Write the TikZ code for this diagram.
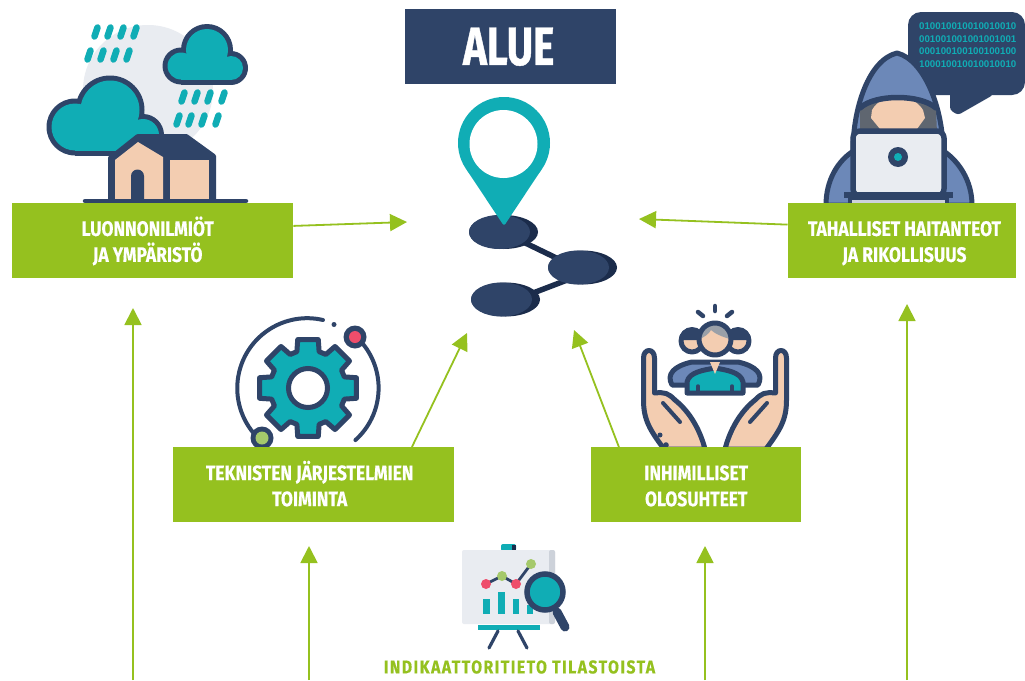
\documentclass[tikz,border=0pt]{standalone}
\usepackage{fontspec}
\setmainfont[FakeStretch=0.83,BoldFeatures={FakeBold=0.4}]{Fira Sans}
\newfontfamily\aluefont[FakeStretch=0.75,BoldFeatures={FakeBold=0.8}]{Fira Sans}
\newfontfamily\indifont[FakeStretch=0.85,LetterSpace=8,BoldFeatures={FakeBold=0.4}]{Fira Sans}
\newfontfamily\binfont{Liberation Sans}
\usetikzlibrary{arrows.meta}
\definecolor{grn}{HTML}{95C11F}
\definecolor{navy}{HTML}{2F4468}
\definecolor{dnavy}{HTML}{1B2C4B}
\definecolor{teal1}{HTML}{10ADB5}
\definecolor{peach}{HTML}{F3CDB1}
\definecolor{hood}{HTML}{6C88B8}
\definecolor{pale}{HTML}{E9ECF1}
\definecolor{pale2}{HTML}{CDD2DA}
\definecolor{hgrey}{HTML}{5F6670}
\definecolor{hair}{HTML}{9AA0A8}
\definecolor{red1}{HTML}{EE4D6B}
\definecolor{lgrn}{HTML}{A5C96B}
\newcommand{\st}{\rule[-3pt]{0pt}{23pt}}
\tikzset{
  gbox/.style={fill=grn,inner sep=0pt,text=white,align=center,anchor=north west,
     font=\fontsize{21}{26}\selectfont\bfseries},
  arr/.style={draw=grn,line width=1.8pt,-{Triangle[length=17pt,width=17pt,fill=grn]}},
  drop/.style={draw=teal1,line width=6.5pt,line cap=round},
  ln/.style={draw=navy,line width=5pt,line cap=round,line join=round},
  bar/.style={fill=teal1},
}
\begin{document}
\begin{tikzpicture}[x=1pt,y=-1pt]
\useasboundingbox (0,0) rectangle (1025,680);
\fill[white] (0,0) rectangle (1025,680);

% ---- left icon
\fill[pale] (148,90) circle (65);
\foreach \x/\y in {96/32,109/32,122/32,135/32,89/55,102/55,115/55,128/55,183/97,196/97,209/97,223/97,178/120,190/120,203/120,217/120}
  \draw[drop] (\x-1.5,\y+4.5) -- (\x+1.5,\y-4.5);
% right cloud
\foreach \c/\r in {{(207,50)}/26,{(181,66)}/18.5,{(231,68)}/17}
  \fill[navy] \c circle (\r);
\fill[navy] (181,60) rectangle (231,84.5);
\foreach \c/\r in {{(207,50)}/21,{(181,66)}/13.5,{(231,68)}/12}
  \fill[teal1] \c circle (\r);
\fill[teal1] (181,60) rectangle (231,79.5);
% left cloud
\foreach \c/\r in {{(110,110)}/34.5,{(75,127)}/28.5,{(143,135)}/21}
  \fill[navy] \c circle (\r);
\fill[navy] (75,120) rectangle (143,156);
\foreach \c/\r in {{(110,110)}/29.5,{(75,127)}/23.5,{(143,135)}/16}
  \fill[teal1] \c circle (\r);
\fill[teal1] (75,120) rectangle (143,151);
% house
\fill[navy,rounded corners=1pt] (108,203) -- (108,157) -- (137,134) -- (187,134) -- (216,155) -- (216,203) -- cycle;
\fill[peach] (115,199) -- (115,160) -- (138,142) -- (163,157) -- (163,199) -- cycle;
\fill[peach] (170,160) rectangle (209,199);
\fill[navy] (131,199) -- (131,176) arc[start angle=180,end angle=360,radius=6.5] -- (144,199) -- cycle;
\draw[navy,line width=4.5pt,line cap=round] (85,201) -- (246,201);

% ---- hacker icon
\fill[navy,rounded corners=13pt] (908,12) rectangle (1025,95);
\fill[navy,rounded corners=3pt] (950,90) -- (950,110) -- (958,115) -- (993,95) -- (993,90) -- cycle;
\node[text=teal1,font=\binfont\fontsize{9.7}{12.6}\selectfont\bfseries,align=left,inner sep=0pt,anchor=north west] (bits) at (919,22.5)
  {010010010010010010\\001001001001001001\\000100100100100100\\100010010010010010};
\draw[ln,fill=hood] (826,205) .. controls (826,180) and (838,160) .. (855,150) -- (942,150) .. controls (958,160) and (972,180) .. (972,205) -- cycle;
\draw[ln,fill=hood] (853,150) .. controls (853,110) and (868,60) .. (897,53) .. controls (925,60) and (943,110) .. (943,150) -- cycle;
\fill[hgrey] (860,133) -- (860,110) .. controls (875,97) and (920,97) .. (936,110) -- (937,133) -- cycle;
\fill[peach] (872,110) .. controls (882,92) and (912,92) .. (923,110) -- (925,118) -- (917,129) -- (880,129) -- (871,118) -- cycle;
\draw[ln,line width=5.5pt] (860,108) .. controls (875,94) and (920,94) .. (936,108);
\draw[ln,line width=5.5pt,fill=pale,rounded corners=7pt] (853,131) -- (944,131) -- (944,196) -- (853,196) -- cycle;
\fill[navy] (898,157) circle (10);
\fill[teal1] (898,157) circle (4);
\fill[navy] (844,192) rectangle (953,198);
\fill[navy] (848,197) rectangle (949,203);
\fill[pale2] (852,200) rectangle (945,203);

% ---- pin and network
\draw[dnavy,line width=5.5pt] (515,238) -- (575,267);
\draw[dnavy,line width=5.5pt] (520,298) -- (575,277);
\fill[dnavy] (503.5,232) ellipse (34.5 and 17);
\fill[navy] (499.5,232) ellipse (30.5 and 17);
\fill[dnavy] (582.5,267.5) ellipse (34.5 and 17);
\fill[navy] (578.5,267.5) ellipse (30.5 and 17);
\fill[dnavy] (505.5,299.5) ellipse (34.5 and 17);
\fill[navy] (501.5,299.5) ellipse (30.5 and 17);
\fill[teal1] (504,143) circle (46);
\fill[teal1,rounded corners=2.5pt] (465.5,168) -- (504,226) -- (542.5,168) -- cycle;
\fill[white] (503.5,144) circle (34);

% ---- gear icon
\draw[ln,line width=4pt] (323,320) arc[start angle=283,end angle=140,radius=70];
\draw[ln,line width=4pt] (363,344) arc[start angle=-39,end angle=48,radius=70];
\fill[navy] (334,324.5) circle (2.5);
\fill[navy] (355,337) circle (11.5);
\fill[red1] (355,337) circle (6);
\fill[navy] (262,438) circle (11.5);
\fill[lgrn] (262,438) circle (6.5);
\begin{scope}[shift={(308,388)}]
\draw[ln,fill=teal1] (-107:38)
  \foreach \a in {0,45,...,315}{
    -- ({\a-90-17}:38) -- ({\a-90-12}:49.5) -- ({\a-90+12}:49.5) -- ({\a-90+17}:38)
  } -- cycle;
\draw[navy,line width=5pt,fill=white] (0,0) circle (19.5);
\end{scope}

% ---- people and hands
\draw[ln,line width=4.5pt] (715,306) -- (715,311);
\draw[ln,line width=4.5pt] (698,312) -- (703,316);
\draw[ln,line width=4.5pt] (732,312) -- (727,316);
% side people
\draw[ln,fill=hood] (672,385) .. controls (666,374) and (674,366) .. (692,362) -- (738,362) .. controls (756,366) and (764,374) .. (758,385) -- cycle;
\draw[ln,fill=peach] (692,341) circle (11);
\draw[ln,fill=peach] (738,341) circle (11);
\fill[navy] (679,340) arc[start angle=180,end angle=360,radius=13] -- cycle;
\fill[navy] (725,340) arc[start angle=180,end angle=360,radius=13] -- cycle;
% centre person
\draw[ln,fill=teal1] (687,393) -- (687,382) .. controls (689,372) and (704,370) .. (715,368) .. controls (726,370) and (741,372) .. (743,382) -- (743,393) -- cycle;
\fill[peach] (710,362) -- (720,362) -- (715,374) -- cycle;
\draw[ln,line width=3.5pt] (698,393) -- (698,386);
\draw[ln,line width=3.5pt] (732,393) -- (732,386);
\fill[peach] (715,339) circle (16);
\fill[hair] (700,339) .. controls (701,320) and (729,320) .. (730,339) .. controls (722,337) and (714,333) .. (711,330) .. controls (709,334) and (704,337) .. (700,339) -- cycle;
\draw[ln] (715,339) circle (16);
% hands
\foreach \s/\o in {1/0,-1/1430}{
  \begin{scope}[xshift=\o pt,x=\s pt]
  \draw[ln,fill=peach] (664,449) .. controls (650,430) and (643.5,420) .. (643.5,400) -- (643.5,358) .. controls (643.5,348) and (654.5,348) .. (654.5,358) -- (654.5,393) .. controls (665,392) and (668,393) .. (675,400) .. controls (690,412) and (700,430) .. (705,449) -- cycle;
  \draw[ln,line width=4pt] (663,403) -- (680,422);
  \end{scope}
}
\fill[navy] (660,435) circle (2.5);
\fill[navy] (666,445) circle (2.8);

% ---- chart icon
\fill[teal1,rounded corners=2pt] (501,544) rectangle (516,551);
\fill[dnavy] (512,545) rectangle (516,550);
\fill[pale,rounded corners=2pt] (462,550) rectangle (555,624);
\fill[pale2,rounded corners=2pt] (549,550) rectangle (555,624);
\fill[teal1] (478,625) rectangle (540,630);
\draw[navy,line width=3.2pt,line cap=round] (498,631) -- (489,648);
\draw[navy,line width=3.2pt,line cap=round] (518,631) -- (527,648);
\fill[bar] (483,599) rectangle (490,614);
\fill[bar] (498,592) rectangle (505,614);
\fill[bar] (513,599) rectangle (519,614);
\fill[bar] (527,605) rectangle (533,614);
\draw[navy,line width=2.8pt] (486,584) -- (502,576) -- (516,584) -- (531,564);
\fill[red1] (486,584) circle (5);
\fill[lgrn] (502,576) circle (5);
\fill[red1] (516,584) circle (5);
\fill[lgrn] (531,564) circle (5);
\draw[navy,line width=9pt,line cap=round] (557,612) -- (565,627);
\draw[navy,line width=5.5pt,fill=teal1] (545,592) circle (18);

% ---- boxes
\node[gbox,minimum width=281pt,minimum height=75pt] (lbox) at (12,203) {\st LUONNONILMIÖT\hspace*{10pt}\\\st JA YMPÄRISTÖ\hspace*{10pt}};
\node[gbox,minimum width=228.5pt,minimum height=75pt] (rbox) at (787.5,203) {\hspace*{5pt}\st TAHALLISET HAITANTEOT\\\hspace*{5pt}\st JA RIKOLLISUUS};
\node[gbox,minimum width=281pt,minimum height=75pt] (tbox) at (173,447) {\st TEKNISTEN JÄRJESTELMIEN\hspace*{8pt}\\\st TOIMINTA\hspace*{8pt}};
\node[gbox,minimum width=210pt,minimum height=75pt] (ibox) at (591,447) {\st INHIMILLISET\\\st OLOSUHTEET};
\node[fill=navy,inner sep=0pt,text=white,anchor=north west,minimum width=211pt,minimum height=75pt,font=\aluefont\fontsize{54}{54}\selectfont\bfseries] (alue) at (405,9) {ALUE\hspace*{4pt}};
\node[text=grn,inner sep=0pt,font=\indifont\fontsize{18.5}{20}\selectfont\bfseries] (indi) at (519.5,667) {INDIKAATTORITIETO TILASTOISTA};

% ---- connector ends
\coordinate (e1) at (407,222);
\coordinate (e2) at (639,219);
\coordinate (e3) at (467,333);
\coordinate (e4) at (574,330);
\coordinate (s5) at (133,680); \coordinate (e5) at (133,308);
\coordinate (s6) at (309,680); \coordinate (e6) at (309,546);
\coordinate (s7) at (705,680); \coordinate (e7) at (705,546);
\coordinate (s8) at (907,680); \coordinate (e8) at (907,304);
\draw[arr] (lbox.6.7) -- (e1);
\draw[arr] (rbox.172.75) -- (e2);
\draw[arr] (tbox.21.04) -- (e3);
\draw[arr] (ibox.154.9) -- (e4);
\draw[arr] (s5) -- (e5);
\draw[arr] (s6) -- (e6);
\draw[arr] (s7) -- (e7);
\draw[arr] (s8) -- (e8);
\end{tikzpicture}
\end{document}
